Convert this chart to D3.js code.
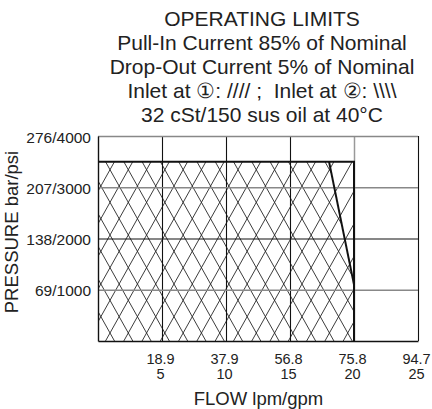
<!DOCTYPE html>
<html>
<head>
<meta charset="utf-8">
<script src="https://cdn.jsdelivr.net/npm/d3@7"></script>
<style>
  body { margin: 0; background: #fff; }
  svg { display: block; font-family: "Liberation Sans", Arial, sans-serif; }
  text { fill: #222; }
</style>
</head>
<body>
<div id="holder"></div>
<script>
// chart values
var titleLines = [
  'OPERATING LIMITS',
  'Pull-In Current 85% of Nominal',
  'Drop-Out Current 5% of Nominal',
  'Inlet at \u2460: //// ;\u00A0 Inlet at \u2461: \\\\\\\\',
  '32 cSt/150 sus oil at 40\u00B0C'
];
var flowGpm = [5, 10, 15, 20, 25];
var flowLpm = ['18.9', '37.9', '56.8', '75.8', '94.7'];
var pressurePsi = [1000, 2000, 3000, 4000];
var pressureBar = ['69', '138', '207', '276'];
// operating envelopes, [gpm, psi]
var inlet1Limit = [[0, 0], [0, 3500], [20, 3500], [20, 0]];
var inlet2Limit = [[0, 0], [0, 3500], [18.05, 3500], [20, 1100], [20, 0]];

function drawChart() {
  var fullWidth = 432;
  var fullHeight = 409;
  var left = 98, right = 418, top = 136, bottom = 341;

  var svg = d3.select('#holder').append('svg')
    .attr('width', fullWidth)
    .attr('height', fullHeight);

  var x = d3.scaleLinear().domain([0, 25]).range([left, right]);
  var y = d3.scaleLinear().domain([0, 4000]).range([bottom, top]);

  var line = d3.line()
    .x(function(d) { return x(d[0]); })
    .y(function(d) { return y(d[1]); });

  // title
  svg.append('g').selectAll('text')
      .data(titleLines)
    .enter().append('text')
      .attr('x', 262)
      .attr('y', function(d, i) { return 26 + i * 23.9; })
      .attr('text-anchor', 'middle')
      .style('font-size', '21px')
      .text(function(d) { return d; });

  // hatching, clipped to each envelope
  var defs = svg.append('defs');
  defs.append('clipPath').attr('id', 'clip1')
    .append('path').attr('d', line(inlet1Limit) + 'Z');
  defs.append('clipPath').attr('id', 'clip2')
    .append('path').attr('d', line(inlet2Limit) + 'Z');

  var spacing = (x(5) - x(0)) / 3.5;
  var lean = 0.56; // horizontal run per pixel of rise
  var h = bottom - top;
  var offsets = d3.range(-20, 30).map(function(k) { return k * spacing; });

  svg.append('g').attr('clip-path', 'url(#clip1)')
    .selectAll('line').data(offsets).enter().append('line')
      .attr('x1', function(d) { return left + 7.5 + d; })
      .attr('y1', bottom)
      .attr('x2', function(d) { return left + 7.5 + d + lean * h; })
      .attr('y2', top)
      .attr('stroke', '#262626')
      .attr('stroke-width', 0.9);

  svg.append('g').attr('clip-path', 'url(#clip2)')
    .selectAll('line').data(offsets).enter().append('line')
      .attr('x1', function(d) { return left + 16.5 + d; })
      .attr('y1', bottom)
      .attr('x2', function(d) { return left + 16.5 + d - lean * h; })
      .attr('y2', top)
      .attr('stroke', '#262626')
      .attr('stroke-width', 0.9);

  // grid
  var xGrid = d3.axisBottom(x)
    .tickValues(flowGpm)
    .tickSize(-h)
    .tickFormat('');
  var gx = svg.append('g')
    .attr('transform', 'translate(0,' + bottom + ')')
    .call(xGrid);
  gx.select('.domain').remove();
  gx.selectAll('.tick line')
    .attr('stroke', function(d) { return d === 20 ? '#999' : '#111'; })
    .attr('stroke-width', function(d) { return d === 20 ? 1.5 : 1.1; });

  var yGrid = d3.axisLeft(y)
    .tickValues(pressurePsi)
    .tickSize(-(right - left))
    .tickFormat('');
  var gy = svg.append('g')
    .attr('transform', 'translate(' + left + ',0)')
    .call(yGrid);
  gy.select('.domain').remove();
  gy.selectAll('.tick line')
    .attr('stroke', function(d) { return d === 2000 ? '#111' : '#888'; })
    .attr('stroke-width', function(d) { return d === 2000 ? 1.1 : 1.6; });

  // envelope outlines
  svg.append('path')
    .attr('d', line([inlet1Limit[1], inlet1Limit[2], inlet1Limit[3]]))
    .attr('fill', 'none')
    .attr('stroke', '#111')
    .attr('stroke-width', 2);
  svg.append('path')
    .attr('d', line([inlet2Limit[2], inlet2Limit[3]]))
    .attr('fill', 'none')
    .attr('stroke', '#111')
    .attr('stroke-width', 2);

  // axes
  var xAxis = d3.axisBottom(x).tickValues([]).tickSizeOuter(0);
  svg.append('g')
    .attr('transform', 'translate(0,' + bottom + ')')
    .call(xAxis)
    .select('.domain').attr('stroke', '#111').attr('stroke-width', 1.4);
  var yAxis = d3.axisLeft(y).tickValues([]).tickSizeOuter(0);
  svg.append('g')
    .attr('transform', 'translate(' + left + ',0)')
    .call(yAxis)
    .select('.domain').attr('stroke', '#111').attr('stroke-width', 1.4);

  // tick labels, lpm over gpm
  var xl = svg.append('g').selectAll('text')
      .data(flowGpm)
    .enter().append('text')
      .attr('text-anchor', 'middle')
      .style('font-size', '14.5px');
  xl.append('tspan')
    .attr('x', function(d) { return x(d) - 1.5; })
    .attr('y', 364)
    .text(function(d, i) { return flowLpm[i]; });
  xl.append('tspan')
    .attr('x', function(d) { return x(d) - 1.5; })
    .attr('y', 378.5)
    .text(function(d) { return d; });

  svg.append('g').selectAll('text')
      .data(pressurePsi)
    .enter().append('text')
      .attr('x', 91)
      .attr('y', function(d) { return y(d) + 6.5; })
      .attr('text-anchor', 'end')
      .style('font-size', '15.5px')
      .text(function(d, i) { return pressureBar[i] + '/' + d; });

  // axis titles
  svg.append('text')
    .attr('x', 258.5)
    .attr('y', 405)
    .attr('text-anchor', 'middle')
    .style('font-size', '18.5px')
    .text('FLOW lpm/gpm');

  svg.append('text')
    .attr('transform', 'translate(18,232) rotate(-90)')
    .attr('text-anchor', 'middle')
    .style('font-size', '18.5px')
    .text('PRESSURE bar/psi');
}

drawChart();
</script>
</body>
</html>
